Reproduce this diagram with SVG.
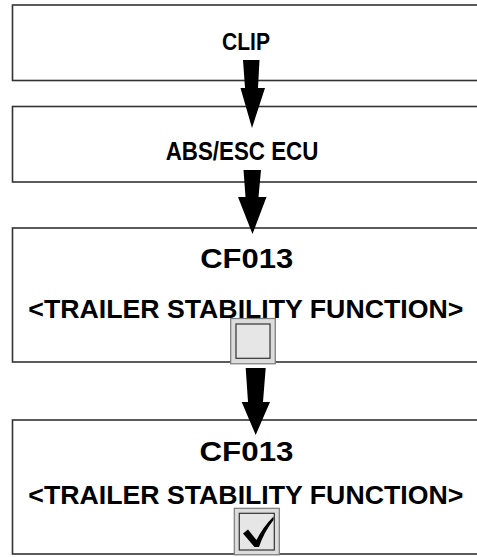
<svg xmlns="http://www.w3.org/2000/svg" width="477" height="557" viewBox="0 0 477 557">
<style>
.box{fill:#fff;stroke:#333;stroke-width:1.6}
.t{font-family:"Liberation Sans",Arial,sans-serif;font-weight:bold;fill:#000;text-anchor:middle}
.arrow{fill:#000}
.cbo{fill:#dcdcdc;stroke:#7a7a7a;stroke-width:1.2}
.cbi{fill:#e6e6e6;stroke:#333;stroke-width:1.2}
</style>
<rect width="477" height="557" fill="#fff"/>
<g id="node-clip">
<rect class="box" x="12.5" y="5" width="470" height="75.5"/>
<text class="t" x="246" y="50" font-size="23.5" textLength="48" lengthAdjust="spacingAndGlyphs">CLIP</text>
</g>
<g id="node-abs">
<rect class="box" x="12.5" y="106.5" width="470" height="75.5"/>
<text class="t" x="242" y="160" font-size="25" textLength="152.7" lengthAdjust="spacingAndGlyphs">ABS/ESC ECU</text>
</g>
<g id="node-cf013-off">
<rect class="box" x="12.5" y="228" width="470" height="134"/>
<text class="t" x="246.7" y="267.5" font-size="27" textLength="93" lengthAdjust="spacingAndGlyphs">CF013</text>
<text class="t" x="245.8" y="317.5" font-size="26.5" textLength="435" lengthAdjust="spacingAndGlyphs">&lt;TRAILER STABILITY FUNCTION&gt;</text>
<rect class="cbo" x="230.7" y="318.5" width="44.6" height="45.3"/>
<rect class="cbi" x="236" y="324" width="34" height="34.3"/>
</g>
<g id="node-cf013-on">
<rect class="box" x="12.5" y="420" width="470" height="134"/>
<text class="t" x="246.5" y="461" font-size="27" textLength="94" lengthAdjust="spacingAndGlyphs">CF013</text>
<text class="t" x="245.8" y="503.5" font-size="26.5" textLength="435" lengthAdjust="spacingAndGlyphs">&lt;TRAILER STABILITY FUNCTION&gt;</text>
<rect class="cbo" x="234.3" y="508.3" width="45" height="46.5"/>
<rect class="cbi" x="239.3" y="513.3" width="35" height="36.7"/>
<path d="M243,533.5 L248,529.5 L256.5,540 Q263,527 273.5,516.5 L273.5,520 Q264,532 259,547 L254.5,547 Z" fill="#000"/>
</g>
<g id="connectors">
<polygon class="arrow" points="243,60 259.5,60 258,88 265,88 252,128 240.5,88 245,88"/>
<polygon class="arrow" points="243.5,170 261,170 258.5,197 266.5,197 252.5,234 238,197 245.5,197"/>
<polygon class="arrow" points="245.7,368 265.7,368 263,402 270,402 255.7,435 241.7,402 248,402"/>
</g>
</svg>
